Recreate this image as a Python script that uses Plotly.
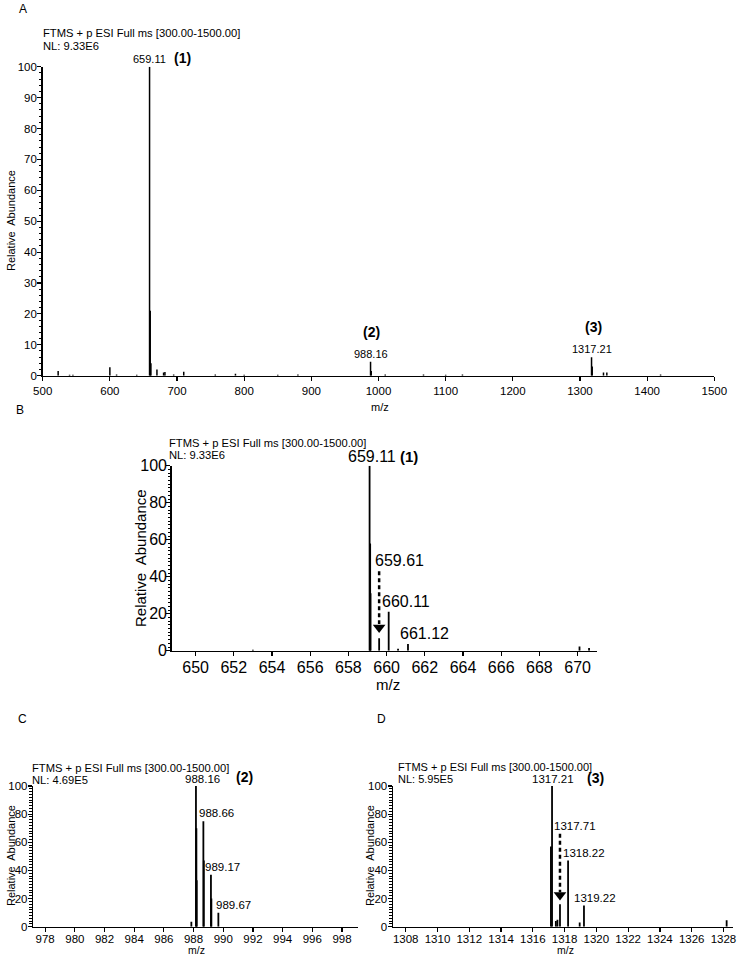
import plotly.graph_objects as go

W, H = 737, 955
FONT = "Arial, Liberation Sans, sans-serif"

# ---------------- data ----------------
# Panel A: full scan
a_mz = [523, 540, 545, 600, 610, 640, 659.11, 660.11, 661.12, 670.1, 680, 682, 695,
        710, 757, 787, 800, 850, 880, 988.16, 989.17, 1010, 1067, 1100, 1125,
        1317.21, 1318.22, 1335, 1340, 1420]
a_int = [1.5, 0.3, 0.3, 2.7, 0.4, 0.3, 100, 21, 4, 2, 1, 1.2, 0.4,
         1.3, 0.4, 0.6, 0.3, 0.3, 0.4, 4.5, 1.5, 0.4, 0.4, 0.3, 0.4,
         6, 3, 1, 1, 0.4]
# Panel B: zoom on (1)
b_mz = [653.0, 659.11, 659.14, 659.16, 659.61, 660.11, 660.6, 661.12, 670.1, 670.6]
b_int = [0.5, 100, 58, 31, 6.7, 21, 1, 3.6, 2.3, 1.5]
# Panel C: zoom on (2)
c_mz = [987.85, 988.16, 988.19, 988.21, 988.66, 988.69, 989.17, 989.2, 989.67]
c_int = [3.5, 100, 70, 33, 75, 47, 37, 20, 10]
# Panel D: zoom on (3)
d_mz = [1317.14, 1317.21, 1317.45, 1317.55, 1317.71, 1318.22, 1318.95, 1319.22, 1328.2]
d_int = [57, 100, 4, 5, 16, 47, 3, 15, 4.5]

header = "FTMS + p ESI Full ms [300.00-1500.00]"
nl_a, nl_b, nl_c, nl_d = "NL: 9.33E6", "NL: 9.33E6", "NL: 4.69E5", "NL: 5.95E5"

b_arrow_mz, b_arrow_top, b_arrow_tip = 659.61, 43, 12.5
d_arrow_mz, d_arrow_top, d_arrow_tip = 1317.71, 66, 22.5

# ---------------- figure ----------------
def px(x):
    return x / W


def py(y):
    return 1 - y / H


def sticks(mz, inten):
    xs, ys = [], []
    for m, i in zip(mz, inten):
        xs += [m, m, None]
        ys += [0, i, None]
    return xs, ys


fig = go.Figure()

panels = [
    ("A", a_mz, a_int, "x", "y", 1.5),
    ("B", b_mz, b_int, "x2", "y2", 1.8),
    ("C", c_mz, c_int, "x3", "y3", 1.8),
    ("D", d_mz, d_int, "x4", "y4", 1.8),
]
for name, mz, it, xa, ya, lw in panels:
    xs, ys = sticks(mz, it)
    fig.add_trace(go.Scatter(x=xs, y=ys, mode="lines", xaxis=xa, yaxis=ya,
                             line=dict(color="black", width=lw),
                             hoverinfo="skip", showlegend=False))

# dashed arrows
for mzv, top, tip, xa, ya in [(b_arrow_mz, b_arrow_top, b_arrow_tip, "x2", "y2"),
                              (d_arrow_mz, d_arrow_top, d_arrow_tip, "x4", "y4")]:
    fig.add_trace(go.Scatter(x=[mzv, mzv], y=[top, tip + 2], mode="lines",
                             xaxis=xa, yaxis=ya,
                             line=dict(color="black", width=2.5, dash="4px,3px"),
                             hoverinfo="skip", showlegend=False))
    fig.add_trace(go.Scatter(x=[mzv], y=[tip], mode="markers", xaxis=xa, yaxis=ya,
                             marker=dict(symbol="triangle-down", size=11, color="black"),
                             hoverinfo="skip", showlegend=False))

domains = {
    "A": ((42.7, 714.3), (66.7, 375.7)),
    "B": ((171.7, 596.7), (465.7, 650.7)),
    "C": ((33.3, 358.3), (786, 926.7)),
    "D": ((393, 733), (786, 926.7)),
}
xranges = {"A": [500, 1500], "B": [648.75, 671.0], "C": [977.2, 999.1], "D": [1307.2, 1328.6]}
xticks = {"A": (500, 100), "B": (650, 2), "C": (978, 2), "D": (1308, 2)}
yd = {"A": 10, "B": 20, "C": 20, "D": 20}
tfs = {"A": 11.5, "B": 16, "C": 11.5, "D": 11.5}
ystand = {"A": -2, "B": -4, "C": -2, "D": -2}
xstand = {"A": 0, "B": -2, "C": -3, "D": -3}

names = ["A", "B", "C", "D"]
for k, name in enumerate(names):
    (x0, x1), (y0, y1) = domains[name]
    sx = "" if k == 0 else str(k + 1)
    xkey, ykey = "xaxis" + sx, "yaxis" + sx
    fig.layout[xkey] = dict(
        domain=[px(x0), px(x1)], range=xranges[name], anchor="y" + sx,
        showline=True, linecolor="black", linewidth=1.5, showgrid=False, zeroline=False,
        ticks="outside", ticklen=4, tickwidth=1.2, tickcolor="black",
        tick0=xticks[name][0], dtick=xticks[name][1], automargin=False,
        ticklabelstandoff=xstand[name],
        tickfont=dict(family=FONT, size=tfs[name], color="black"), fixedrange=True,
    )
    fig.layout[ykey] = dict(
        domain=[py(y1), py(y0)], range=[0, 100], anchor="x" + sx,
        showline=True, linecolor="black", linewidth=1.5, showgrid=False, zeroline=False,
        ticks="outside", ticklen=4, tickwidth=1.2, tickcolor="black",
        tick0=0, dtick=yd[name], automargin=False, ticklabelstandoff=ystand[name],
        minor=dict(dtick=2, ticks="outside", ticklen=2.5, tickcolor="black", tickwidth=1),
        tickfont=dict(family=FONT, size=tfs[name], color="black"), fixedrange=True,
    )

anns = []


def add(text, x, y, size, xref="paper", yref="paper", xanchor="center", yanchor="middle",
        xshift=0, yshift=0, bold=False, angle=0):
    anns.append(dict(text=("<b>%s</b>" % text) if bold else text, x=x, y=y, xref=xref,
                     yref=yref, xanchor=xanchor, yanchor=yanchor, xshift=xshift,
                     yshift=yshift, showarrow=False, textangle=angle,
                     font=dict(family=FONT, size=size, color="black")))


# panel letters
add("A", px(22.7), py(9), 12)
add("B", px(20), py(410), 12)
add("C", px(22.7), py(719), 12)
add("D", px(381), py(719), 12)

# headers
for (lx, y1_, txt2, fs) in [(41, 33.5, nl_a, 11.2), (167, 443, nl_b, 11.2),
                            (30, 768, nl_c, 11.2), (396, 767, nl_d, 11.0)]:
    add(header, px(lx), py(y1_), fs, xanchor="left")
    add(txt2, px(lx), py(y1_ + 12), fs, xanchor="left")

# axis titles
add("Relative  Abundance", px(11), py(221), 11, angle=-90)
add("Relative  Abundance", px(140), py(558), 15, angle=-90)
add("Relative  Abundance", px(11), py(856), 11, angle=-90)
add("Relative  Abundance", px(370), py(856), 11, angle=-90)
add("m/z", px(380), py(407), 11)
add("m/z", px(388), py(684), 15)
add("m/z", px(196), py(950), 10.5)
add("m/z", px(565), py(950), 10.5)

# peak labels panel A
add("659.11", 659.11, 100, 11, "x", "y", yanchor="bottom", yshift=0)
add("(1)", 659.11, 100, 14, "x", "y", yanchor="bottom", xshift=33, yshift=-1, bold=True)
add("988.16", 988.16, 4.5, 11, "x", "y", yanchor="bottom")
add("(2)", 988.16, 4.5, 14, "x", "y", yanchor="bottom", xshift=1, yshift=20, bold=True)
add("1317.21", 1317.21, 6, 11, "x", "y", yanchor="bottom")
add("(3)", 1317.21, 6, 14, "x", "y", yanchor="bottom", xshift=2, yshift=20, bold=True)

# panel B
add("659.11", 659.11, 100, 16, "x2", "y2", yanchor="bottom", xshift=2, yshift=-1)
add("(1)", 659.11, 100, 15, "x2", "y2", yanchor="bottom", xshift=39, yshift=-1, bold=True)
add("659.61", 659.61, b_arrow_top, 16, "x2", "y2", yanchor="bottom", xshift=20)
add("660.11", 660.11, 21, 16, "x2", "y2", yanchor="bottom", xshift=17)
add("661.12", 661.12, 3.6, 16, "x2", "y2", yanchor="bottom", xshift=17)

# panel C
add("988.16", 988.16, 100, 11.5, "x3", "y3", yanchor="bottom", xshift=7, yshift=-1)
add("(2)", 988.16, 100, 14, "x3", "y3", yanchor="bottom", xshift=49, yshift=-1, bold=True)
add("988.66", 988.66, 75, 11.5, "x3", "y3", yanchor="bottom", xshift=13)
add("989.17", 989.17, 37, 11.5, "x3", "y3", yanchor="bottom", xshift=12)
add("989.67", 989.67, 10, 11.5, "x3", "y3", yanchor="bottom", xshift=15)

# panel D
add("1317.21", 1317.21, 100, 11.5, "x4", "y4", yanchor="bottom", xshift=1, yshift=-1)
add("(3)", 1317.21, 100, 14, "x4", "y4", yanchor="bottom", xshift=43, yshift=-2, bold=True)
add("1317.71", 1317.71, d_arrow_top, 11.5, "x4", "y4", yanchor="bottom", xshift=15)
add("1318.22", 1318.22, 47, 11.5, "x4", "y4", yanchor="bottom", xshift=16)
add("1319.22", 1319.22, 15, 11.5, "x4", "y4", yanchor="bottom", xshift=11)

fig.update_layout(
    width=W, height=H, autosize=False,
    margin=dict(l=0, r=0, t=0, b=0),
    paper_bgcolor="white", plot_bgcolor="white",
    showlegend=False, annotations=anns,
    font=dict(family=FONT, color="black"),
)

fig.write_html(
    "out.html",
    config={"displayModeBar": False, "staticPlot": True},
    post_script="document.body.style.margin='0px';document.body.style.overflow='hidden';",
)
